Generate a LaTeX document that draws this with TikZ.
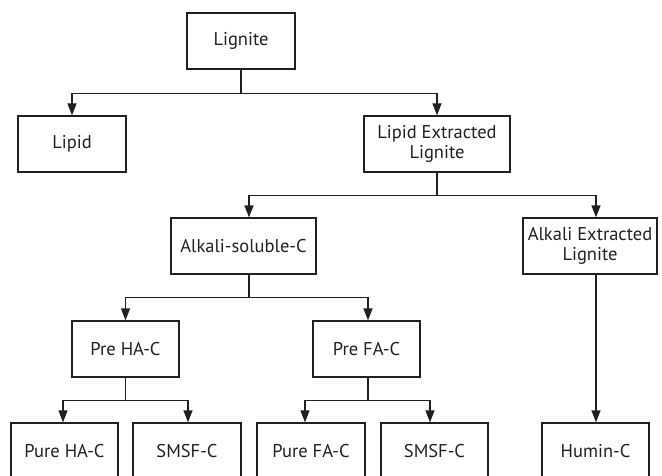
\documentclass[tikz,border=0pt]{standalone}
\usepackage{fontspec}
\setmainfont{PT Sans}
\usetikzlibrary{arrows.meta}
\definecolor{ink}{HTML}{231F20}
\begin{document}
\begin{tikzpicture}[x=1pt,y=-1pt,
  box/.style={draw=ink,line width=1.3pt,minimum height=56pt,inner sep=0pt,
    align=center,font=\fontsize{18.5}{20}\selectfont,text=ink},
  conn/.style={draw=ink,line width=1.3pt},
  arr/.style={conn,-{Triangle[length=12pt,width=9pt]}}]
\useasboundingbox (0,0) rectangle (662,475);
\clip (0,0) rectangle (662,475);
\node[box,minimum width=108pt] (lig) at (241,41) {Lignite};
\node[box,minimum width=108pt] (lip) at (72,144) {Lipid};
\node[box,minimum width=146pt] (lel) at (437,144) {Lipid Extracted\\Lignite};
\node[box,minimum width=145pt] (asc) at (243.5,246) {Alkali-soluble-C};
\node[box,minimum width=134pt] (ael) at (590,246) {Alkali Extracted\\Lignite};
\node[box,minimum width=107pt] (prha) at (125.5,349) {Pre HA-C};
\node[box,minimum width=107pt] (prfa) at (366.5,349) {Pre FA-C};
\node[box,minimum width=107pt] (puha) at (64.5,451) {Pure HA-C};
\node[box,minimum width=108pt] (sm1) at (187,451) {SMSF-C};
\node[box,minimum width=108pt] (pufa) at (311,451) {Pure FA-C};
\node[box,minimum width=107pt] (sm2) at (434.5,451) {SMSF-C};
\node[box,minimum width=107pt] (hum) at (595.5,451) {Humin-C};
% connectors
\draw[conn] (lig.south) -- ++(0,24) coordinate (b1);
\draw[arr] (b1) -| (lip.north);
\draw[arr] (b1) -| (lel.north);
\draw[conn] (lel.south) -- ++(0,23) coordinate (b2);
\draw[arr] (b2) -| ([xshift=5.5pt]asc.north);
\draw[arr] (b2) -| ([xshift=6pt]ael.north);
\draw[conn] ([xshift=5.5pt]asc.south) -- ++(0,23) coordinate (b3);
\draw[arr] (b3) -| (prha.north);
\draw[arr] (b3) -| ([xshift=1.5pt]prfa.north);
\draw[conn] (prha.south) -- ++(0,23) coordinate (b4);
\draw[arr] (b4) -| ([xshift=-1.5pt]puha.north);
\draw[arr] (b4) -| ([xshift=1pt]sm1.north);
\draw[conn] ([xshift=1.5pt]prfa.south) -- ++(0,23) coordinate (b5);
\draw[arr] (b5) -| ([xshift=-6pt]pufa.north);
\draw[arr] (b5) -| ([xshift=-4.5pt]sm2.north);
\draw[arr] ([xshift=6pt]ael.south) -- ([xshift=0.5pt]hum.north);
\end{tikzpicture}
\end{document}
